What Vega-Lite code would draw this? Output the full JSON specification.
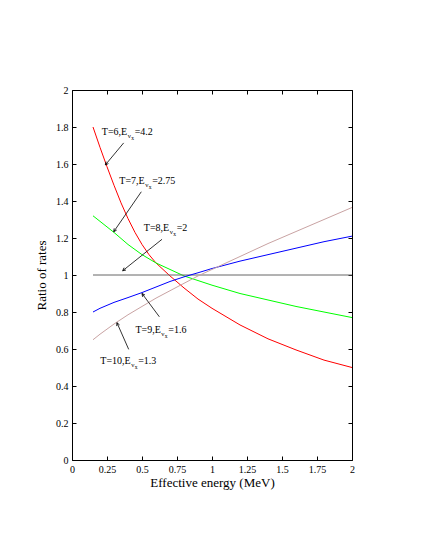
{
  "$schema": "https://vega.github.io/schema/vega-lite/v6.json",
  "width": 280,
  "height": 370,
  "autosize": "none",
  "padding": {"left": 72, "top": 90, "right": 73, "bottom": 90},
  "background": "white",
  "config": {
    "view": {"stroke": "black", "strokeWidth": 1},
    "font": "Liberation Serif, Times New Roman, serif",
    "axis": {
      "grid": false,
      "domain": false,
      "tickColor": "black",
      "tickSize": -4,
      "labelPadding": 8,
      "labelOverlap": false,
      "labelFlush": false,
      "labelFont": "Liberation Serif, Times New Roman, serif",
      "labelFontSize": 10,
      "labelColor": "black",
      "titleFont": "Liberation Serif, Times New Roman, serif",
      "titleFontSize": 13,
      "titleFontWeight": "normal",
      "titleColor": "black"
    }
  },
  "datasets": {
    "curves": [
      {"e": 0.15, "r": 1.8, "T": "T6"}, {"e": 0.2, "r": 1.69, "T": "T6"}, {"e": 0.25, "r": 1.585, "T": "T6"}, {"e": 0.3, "r": 1.485, "T": "T6"}, {"e": 0.35, "r": 1.39, "T": "T6"}, {"e": 0.4, "r": 1.305, "T": "T6"}, {"e": 0.45, "r": 1.23, "T": "T6"}, {"e": 0.5, "r": 1.165, "T": "T6"}, {"e": 0.55, "r": 1.11, "T": "T6"}, {"e": 0.6, "r": 1.065, "T": "T6"}, {"e": 0.65, "r": 1.03, "T": "T6"}, {"e": 0.7, "r": 0.995, "T": "T6"}, {"e": 0.8, "r": 0.93, "T": "T6"}, {"e": 0.9, "r": 0.87, "T": "T6"}, {"e": 1.0, "r": 0.82, "T": "T6"}, {"e": 1.2, "r": 0.73, "T": "T6"}, {"e": 1.4, "r": 0.655, "T": "T6"}, {"e": 1.6, "r": 0.595, "T": "T6"}, {"e": 1.8, "r": 0.54, "T": "T6"}, {"e": 2.0, "r": 0.5, "T": "T6"},
      {"e": 0.15, "r": 1.32, "T": "T7"}, {"e": 0.2, "r": 1.29, "T": "T7"}, {"e": 0.25, "r": 1.26, "T": "T7"}, {"e": 0.3, "r": 1.23, "T": "T7"}, {"e": 0.4, "r": 1.165, "T": "T7"}, {"e": 0.5, "r": 1.11, "T": "T7"}, {"e": 0.6, "r": 1.065, "T": "T7"}, {"e": 0.7, "r": 1.03, "T": "T7"}, {"e": 0.8, "r": 0.995, "T": "T7"}, {"e": 0.9, "r": 0.97, "T": "T7"}, {"e": 1.0, "r": 0.945, "T": "T7"}, {"e": 1.2, "r": 0.9, "T": "T7"}, {"e": 1.4, "r": 0.865, "T": "T7"}, {"e": 1.6, "r": 0.83, "T": "T7"}, {"e": 1.8, "r": 0.8, "T": "T7"}, {"e": 2.0, "r": 0.77, "T": "T7"},
      {"e": 0.15, "r": 1.0, "T": "T8"}, {"e": 2.0, "r": 1.0, "T": "T8"},
      {"e": 0.15, "r": 0.8, "T": "T9"}, {"e": 0.2, "r": 0.82, "T": "T9"}, {"e": 0.3, "r": 0.852, "T": "T9"}, {"e": 0.4, "r": 0.878, "T": "T9"}, {"e": 0.5, "r": 0.905, "T": "T9"}, {"e": 0.6, "r": 0.935, "T": "T9"}, {"e": 0.7, "r": 0.965, "T": "T9"}, {"e": 0.8, "r": 0.99, "T": "T9"}, {"e": 0.9, "r": 1.012, "T": "T9"}, {"e": 1.0, "r": 1.035, "T": "T9"}, {"e": 1.2, "r": 1.075, "T": "T9"}, {"e": 1.4, "r": 1.11, "T": "T9"}, {"e": 1.6, "r": 1.145, "T": "T9"}, {"e": 1.8, "r": 1.18, "T": "T9"}, {"e": 2.0, "r": 1.21, "T": "T9"},
      {"e": 0.15, "r": 0.65, "T": "T10"}, {"e": 0.2, "r": 0.68, "T": "T10"}, {"e": 0.3, "r": 0.735, "T": "T10"}, {"e": 0.4, "r": 0.785, "T": "T10"}, {"e": 0.5, "r": 0.83, "T": "T10"}, {"e": 0.6, "r": 0.875, "T": "T10"}, {"e": 0.7, "r": 0.915, "T": "T10"}, {"e": 0.8, "r": 0.955, "T": "T10"}, {"e": 0.9, "r": 0.995, "T": "T10"}, {"e": 1.0, "r": 1.03, "T": "T10"}, {"e": 1.2, "r": 1.1, "T": "T10"}, {"e": 1.4, "r": 1.17, "T": "T10"}, {"e": 1.6, "r": 1.235, "T": "T10"}, {"e": 1.8, "r": 1.3, "T": "T10"}, {"e": 2.0, "r": 1.365, "T": "T10"}
    ],
    "labels": [
      {"x": 0.394, "y": 1.757, "pre": "T=6,E", "post": "=4.2"},
      {"x": 0.519, "y": 1.494, "pre": "T=7,E", "post": "=2.75"},
      {"x": 0.694, "y": 1.238, "pre": "T=8,E", "post": "=2"},
      {"x": 0.634, "y": 0.688, "pre": "T=9,E", "post": "=1.6"},
      {"x": 0.419, "y": 0.519, "pre": "T=10,E", "post": "=1.3"}
    ],
    "arrows": [
      {"x": 0.369, "y": 1.714, "x2": 0.238, "y2": 1.595},
      {"x": 0.495, "y": 1.45, "x2": 0.298, "y2": 1.234},
      {"x": 0.643, "y": 1.193, "x2": 0.362, "y2": 1.023},
      {"x": 0.624, "y": 0.774, "x2": 0.5, "y2": 0.9},
      {"x": 0.405, "y": 0.598, "x2": 0.321, "y2": 0.742}
    ]
  },
  "layer": [
    {
      "layer": [
        {
          "data": {"name": "curves"},
          "mark": {"type": "line", "strokeWidth": 1},
          "encoding": {
            "x": {"field": "e", "type": "quantitative", "scale": {"domain": [0, 2], "nice": false, "zero": false}, "axis": null},
            "y": {"field": "r", "type": "quantitative", "scale": {"domain": [0, 2], "nice": false, "zero": false}, "axis": null},
            "color": {"field": "T", "type": "nominal", "legend": null,
                      "scale": {"domain": ["T6", "T7", "T8", "T9", "T10"], "range": ["#ff0000", "#00ff00", "#666666", "#0000ff", "#c9a3a3"]}},
            "strokeWidth": {"condition": {"test": "datum.T === 'T8'", "value": 1.8}, "value": 1}
          }
        },
        {
          "data": {"name": "arrows"},
          "mark": {"type": "rule", "color": "black", "strokeWidth": 0.8},
          "encoding": {
            "x": {"field": "x", "type": "quantitative", "axis": null},
            "y": {"field": "y", "type": "quantitative", "axis": null},
            "x2": {"field": "x2"},
            "y2": {"field": "y2"}
          }
        },
        {
          "data": {"name": "arrows"},
          "transform": [{"calculate": "(atan2((datum.x2 - datum.x) * 140, (datum.y2 - datum.y) * 185) * 180 / PI + 360) % 360", "as": "ang"}],
          "mark": {"type": "point", "shape": "M-0.5,1L0,0L0.5,1", "filled": false, "stroke": "black", "strokeWidth": 0.8, "size": 36, "opacity": 1},
          "encoding": {
            "x": {"field": "x2", "type": "quantitative", "axis": null},
            "y": {"field": "y2", "type": "quantitative", "axis": null},
            "angle": {"field": "ang", "type": "quantitative", "scale": null}
          }
        },
        {
          "data": {"name": "labels"},
          "mark": {"type": "text", "align": "right", "baseline": "alphabetic", "fontSize": 10, "color": "black"},
          "encoding": {
            "x": {"field": "x", "type": "quantitative", "axis": null},
            "y": {"field": "y", "type": "quantitative", "axis": null},
            "text": {"field": "pre"}
          }
        },
        {
          "data": {"name": "labels"},
          "mark": {"type": "text", "align": "left", "baseline": "alphabetic", "fontSize": 7, "color": "black", "dx": 0.5, "dy": 3, "text": "ν"},
          "encoding": {
            "x": {"field": "x", "type": "quantitative", "axis": null},
            "y": {"field": "y", "type": "quantitative", "axis": null}
          }
        },
        {
          "data": {"name": "labels"},
          "mark": {"type": "text", "align": "left", "baseline": "alphabetic", "fontSize": 5.5, "color": "black", "dx": 4, "dy": 5, "text": "x"},
          "encoding": {
            "x": {"field": "x", "type": "quantitative", "axis": null},
            "y": {"field": "y", "type": "quantitative", "axis": null}
          }
        },
        {
          "data": {"name": "labels"},
          "mark": {"type": "text", "align": "left", "baseline": "alphabetic", "fontSize": 10, "color": "black", "dx": 7.5},
          "encoding": {
            "x": {"field": "x", "type": "quantitative", "axis": null},
            "y": {"field": "y", "type": "quantitative", "axis": null},
            "text": {"field": "post"}
          }
        }
      ]
    },
    {
      "data": {"name": "curves"},
      "mark": {"type": "point", "opacity": 0},
      "encoding": {
        "x": {"field": "e", "type": "quantitative", "scale": {"domain": [0, 2], "nice": false, "zero": false},
              "axis": {"orient": "bottom", "title": "Effective energy (MeV)", "values": [0, 0.25, 0.5, 0.75, 1, 1.25, 1.5, 1.75, 2], "format": ".3~g", "titlePadding": 2}},
        "y": {"field": "r", "type": "quantitative", "scale": {"domain": [0, 2], "nice": false, "zero": false},
              "axis": {"orient": "left", "title": "Ratio of rates", "values": [0, 0.2, 0.4, 0.6, 0.8, 1, 1.2, 1.4, 1.6, 1.8, 2], "format": ".3~g", "titlePadding": 7}}
      }
    },
    {
      "data": {"name": "curves"},
      "mark": {"type": "point", "opacity": 0},
      "encoding": {
        "x": {"field": "e", "type": "quantitative", "scale": {"domain": [0, 2], "nice": false, "zero": false},
              "axis": {"orient": "top", "title": null, "labels": false, "values": [0, 0.25, 0.5, 0.75, 1, 1.25, 1.5, 1.75, 2]}},
        "y": {"field": "r", "type": "quantitative", "scale": {"domain": [0, 2], "nice": false, "zero": false},
              "axis": {"orient": "right", "title": null, "labels": false, "values": [0, 0.2, 0.4, 0.6, 0.8, 1, 1.2, 1.4, 1.6, 1.8, 2]}}
      }
    }
  ],
  "resolve": {"axis": {"x": "independent", "y": "independent"}}
}
